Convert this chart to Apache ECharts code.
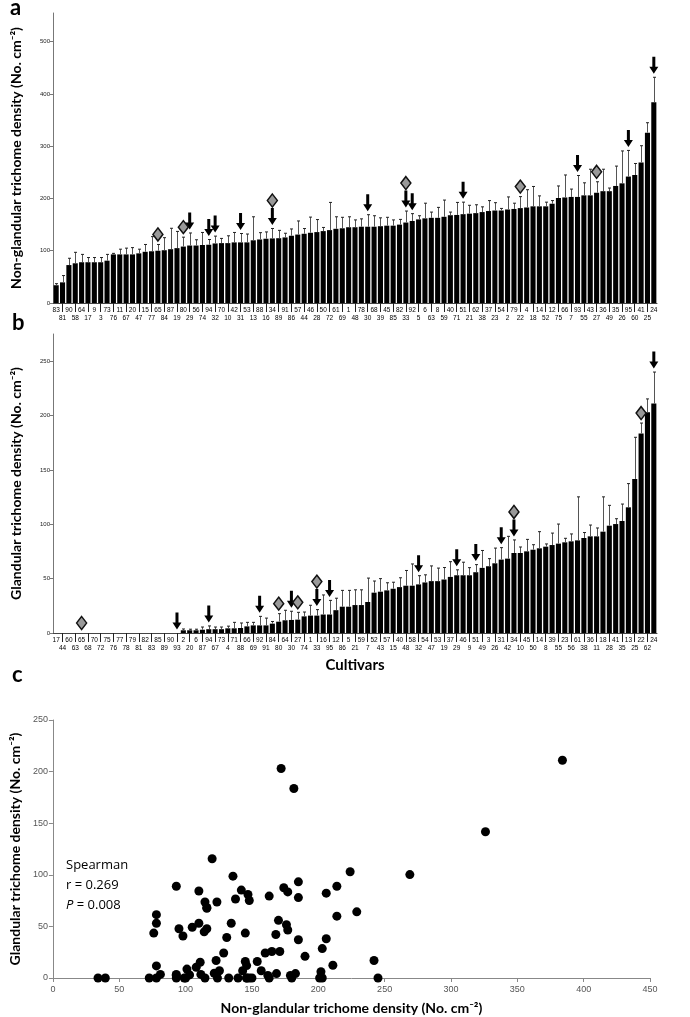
<!DOCTYPE html>
<html lang="en">
<head>
<meta charset="UTF-8">
<title>Trichome density of cultivars</title>
<style>
  html, body { margin: 0; padding: 0; background: #fff; }
  #chart { width: 690px; height: 1017px; }
</style>
</head>
<body>
<div id="chart"></div>
<script src="https://cdn.jsdelivr.net/npm/echarts@6/dist/echarts.min.js"></script>
<script>
// panel a: non-glandular density, cultivars sorted by mean
var cultivarsA = [83,81,90,58,64,17,9,3,73,76,11,67,20,47,15,77,65,84,87,19,80,29,56,74,94,32,70,10,42,31,53,13,88,16,34,89,91,86,57,44,46,28,50,72,61,69,1,48,78,30,68,39,45,85,82,33,92,5,6,63,8,59,40,71,51,21,62,38,37,23,54,2,79,22,4,18,14,52,12,75,66,7,93,55,43,27,36,49,35,26,95,60,41,25,24];
var densityA = [34,39.5,72.6,76,78,78,78,78,81,93,93,93,93,95,98,99,100,101,103,105,108,110,110,111,111.5,114,114.6,114.6,116,116,116,120,121.6,123,123.6,124,125.5,128.7,131,132.5,134.4,135.7,137.6,139.5,142,143,145,
  145,146,146,146,147,148,148,150,154,157,160,162,163,163,165,168,168.5,170,171,172,174,176,177,177,179,180,181.6,182.8,185,185,185,190,201,202,203,203,206,206,211,214,214,224,229,242,245,269,326,384];
var errorA = [3,13,13,21,15,9,9,9,12,2,10,12,13,8,14,28,12,24,40,32,18,24,11,24,10,14,9,14,19,17,16,45,13,13,19,15,8,13,26,10,30,24,7,53,23,21,20,
  14,15,23,21,16,16,11,10,22,14,7,29,11,20,32,6,24,23,16,16,10,20,15,4,24,11,22,34,38,20,8,6,23,43,15,41,24,50,21,42,6,38,62,50,22,32,19,48];

// panel b: glandular density, cultivars sorted by mean
var cultivarsB = [17,44,60,63,65,68,70,72,75,76,77,78,79,81,82,83,85,89,90,93,2,20,6,87,94,67,73,4,71,88,66,69,92,91,84,80,64,30,27,74,1,33,16,95,12,86,5,21,59,7,52,43,57,15,40,48,58,32,54,47,53,19,37,29,46,9,51,49,3,26,31,42,34,10,45,50,14,8,39,55,23,56,61,38,36,11,18,28,41,35,13,25,22,62,24];
var densityB = [0,0,0,0,0,0,0,0,0,0,0,0,0,0,0,0,0,0,0,0,
  2.5,2.5,2.5,3,3.5,3.5,3.5,4.3,4.3,4.6,6.1,7,7,7,8.6,10.4,11.7,12,12.3,15.3,16,16,17,17,21,
  24.2,24.2,25.7,25.7,28.5,37.1,38,39.2,40.7,42.2,43.5,43.5,44.7,46.5,47.7,47.7,49.2,51.6,53.1,53.1,53.1,55.9,59.9,61.4,64.1,67.5,68.4,
  73.6,73.6,75.1,76.6,77.9,79.4,80.9,82.2,83.4,84.3,85.2,87.4,88.9,88.9,93.2,98.7,100.2,103,115.6,141.7,183.6,203,211];
var errorB = [0,0,0,0,0,0,0,0,0,0,0,0,0,0,0,0,0,0,0,0,
  1.2,1,1,2.5,3,2,2,2,5.5,4.6,3.7,2.8,8.3,6.7,2,7.4,9.2,8,6.7,4,9.5,5.5,18,13,11,
  15,15,14,14,22,10.7,12,7,6,8.6,14,20,8,7,14,12,11,14,5,12,7,7,16,7,14,11,20.5,12,5.5,11,4.6,15.3,2.5,11,18,3.7,6.8,40,5,10.4,7.7,32,18.7,4.9,15.6,21.8,38.3,9.5,12.3,29];

// flagged cultivars
var arrowCultivars = [29,94,32,31,34,30,33,92,51,93,95,24];
var diamondCultivars = [65,80,34,33,22,27];

var yTitleA = 'Non-glandular trichome density (No. cm\u207B\u00B2)';
var yTitleB = 'Glandular trichome density (No. cm\u207B\u00B2)';

var ARROW = 'path://M3,0 L6,0 L6,10 L9,10 L4.5,17 L0,10 L3,10 Z';
var TITLE_FONT = 'Lato';
var TICK_FONT = 'Liberation Sans';

function catAxis(grid, names) {
  return {
    gridIndex: grid, type: 'category', data: names.map(String),
    axisLine: { lineStyle: { color: '#444', width: 1 } },
    axisTick: { show: true, alignWithLabel: true, length: 9,
      interval: function (i) { return i % 2 === 1; },
      lineStyle: { color: '#222' } },
    axisLabel: { interval: 0, fontSize: 6.5, color: '#000', margin: 3, lineHeight: 8,
      fontFamily: TICK_FONT,
      formatter: function (v, i) { return i % 2 ? '\n' + v : v; } }
  };
}

function valAxis(grid, max, step, title) {
  return {
    gridIndex: grid, type: 'value', min: 0, max: max, interval: step,
    axisLine: { show: true, lineStyle: { color: '#777' } },
    axisTick: { show: true, length: 3, lineStyle: { color: '#777' } },
    splitLine: { show: false },
    axisLabel: { fontSize: 6, color: '#222', margin: 3, showMaxLabel: false, fontFamily: TICK_FONT },
    name: title, nameLocation: 'middle', nameGap: 30,
    nameTextStyle: { fontSize: 14, fontWeight: 'bold', color: '#000', fontFamily: TITLE_FONT }
  };
}

function errorSeries(axis, vals, errs) {
  return {
    type: 'custom', xAxisIndex: axis, yAxisIndex: axis, z: 3,
    data: vals.map(function (v, i) { return [i, v, errs[i]]; }),
    renderItem: function (params, api) {
      var e = api.value(2);
      if (!e) return null;
      var p0 = api.coord([api.value(0), api.value(1)]);
      var p1 = api.coord([api.value(0), api.value(1) + e]);
      var x = Math.round(p0[0]) + 0.5;
      return { type: 'group', children: [
        { type: 'line', shape: { x1: x, y1: p0[1], x2: x, y2: p1[1] }, style: { stroke: '#555', lineWidth: 1 } },
        { type: 'line', shape: { x1: x - 1.5, y1: p1[1], x2: x + 1.5, y2: p1[1] }, style: { stroke: '#222', lineWidth: 1 } }
      ]};
    }
  };
}

function markerSeries(axis, names, vals, errs) {
  var arrows = [], diamonds = [];
  names.forEach(function (c, i) {
    var top = vals[i] + errs[i];
    var hasArrow = arrowCultivars.indexOf(c) >= 0;
    if (hasArrow) arrows.push([i, top]);
    if (diamondCultivars.indexOf(c) >= 0) {
      diamonds.push({ value: [i, top], symbolOffset: [0, hasArrow ? -28 : -10] });
    }
  });
  return [{
    type: 'scatter', xAxisIndex: axis, yAxisIndex: axis, z: 4, silent: true,
    symbol: ARROW, symbolSize: [9, 17], symbolOffset: [0, -12],
    itemStyle: { color: '#000', opacity: 1 }, data: arrows
  }, {
    type: 'scatter', xAxisIndex: axis, yAxisIndex: axis, z: 5, silent: true,
    symbol: 'diamond', symbolSize: [10, 13],
    itemStyle: { color: '#999', borderColor: '#111', borderWidth: 1.5, opacity: 1 }, data: diamonds
  }];
}

// scatter: join both panels by cultivar
var pairs = cultivarsA.map(function (c, i) {
  return [densityA[i], densityB[cultivarsB.indexOf(c)]];
});

var chart = echarts.init(document.getElementById('chart'));
var option = {
  backgroundColor: '#fff',
  animation: false,
  grid: [
    { left: 53, right: 33, top: 13, height: 290 },
    { left: 53, right: 33, top: 334, height: 299 },
    { left: 52, right: 40, top: 720, height: 258 }
  ],
  xAxis: [
    catAxis(0, cultivarsA),
    Object.assign(catAxis(1, cultivarsB), {
      name: 'Cultivars', nameLocation: 'middle', nameGap: 25,
      nameTextStyle: { fontSize: 15, fontWeight: 'bold', color: '#000', fontFamily: TITLE_FONT }
    }),
    {
      gridIndex: 2, type: 'value', min: 0, max: 450, interval: 50,
      axisLine: { lineStyle: { color: '#888' } },
      axisTick: { show: true, length: 4, lineStyle: { color: '#888' } },
      splitLine: { show: false },
      axisLabel: { fontSize: 9, color: '#555', margin: 7 },
      name: yTitleA, nameLocation: 'middle', nameGap: 23,
      nameTextStyle: { fontSize: 14, fontWeight: 'bold', color: '#000', fontFamily: TITLE_FONT }
    }
  ],
  yAxis: [
    valAxis(0, 555, 100, yTitleA),
    valAxis(1, 275, 50, yTitleB),
    {
      gridIndex: 2, type: 'value', min: 0, max: 250, interval: 50,
      axisLine: { show: true, lineStyle: { color: '#888' } },
      axisTick: { show: true, length: 4, lineStyle: { color: '#888' } },
      splitLine: { show: false },
      axisLabel: { fontSize: 9, color: '#555', margin: 5 },
      name: yTitleB, nameLocation: 'middle', nameGap: 30,
      nameTextStyle: { fontSize: 14, fontWeight: 'bold', color: '#000', fontFamily: TITLE_FONT }
    }
  ],
  graphic: [
    { type: 'text', left: 10, top: -3, style: { text: 'a', font: 'bold 22px Lato', fill: '#000' } },
    { type: 'text', left: 12, top: 312, style: { text: 'b', font: 'bold 22px Lato', fill: '#000' } },
    { type: 'text', left: 12, top: 664, style: { text: 'c', font: 'bold 22px Lato', fill: '#000' } },
    { type: 'text', left: 66, top: 855, style: {
      text: 'Spearman\nr = 0.269\n{i|P} = 0.008', font: '13px "Open Sans"', lineHeight: 20, fill: '#000',
      rich: { i: { fontStyle: 'italic', fontSize: 13, fontFamily: 'Open Sans' } } } }
  ],
  series: [
    { type: 'bar', xAxisIndex: 0, yAxisIndex: 0, data: densityA, barWidth: '80%', itemStyle: { color: '#000' } },
    errorSeries(0, densityA, errorA),
    { type: 'bar', xAxisIndex: 1, yAxisIndex: 1, data: densityB, barWidth: '80%', itemStyle: { color: '#000' } },
    errorSeries(1, densityB, errorB),
    {
      type: 'scatter', xAxisIndex: 2, yAxisIndex: 2, data: pairs,
      symbolSize: 9, itemStyle: { color: '#000', opacity: 1 }
    }
  ].concat(markerSeries(0, cultivarsA, densityA, errorA))
   .concat(markerSeries(1, cultivarsB, densityB, errorB))
};
chart.setOption(option);
</script>
</body>
</html>
